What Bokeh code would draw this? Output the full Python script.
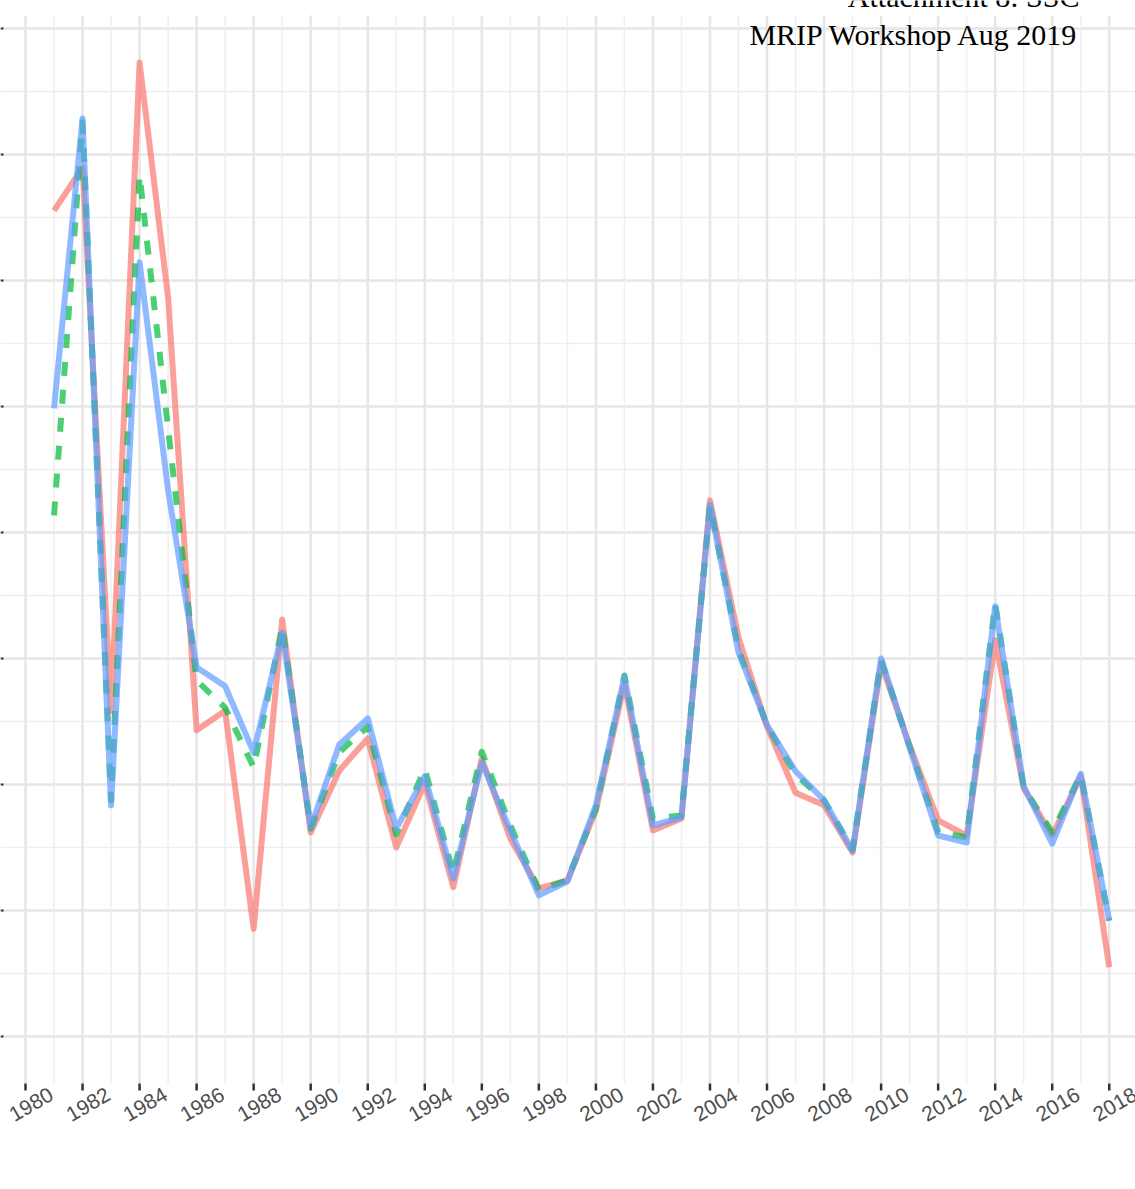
import math
from bokeh.plotting import figure
from bokeh.models import Range1d, FixedTicker, Grid, ColumnDataSource
from bokeh.core.properties import value
from bokeh.embed import file_html
from bokeh.resources import INLINE

# ---- data ----
years = list(range(1981, 2019))
series_red = [1.311, 1.379, 0.517, 1.546, 1.173, 0.486, 0.517, 0.171, 0.662, 0.324,
              0.422, 0.473, 0.300, 0.402, 0.237, 0.441, 0.314, 0.235, 0.248, 0.359,
              0.560, 0.327, 0.346, 0.851, 0.633, 0.492, 0.387, 0.367, 0.292, 0.592,
              0.462, 0.343, 0.319, 0.629, 0.394, 0.319, 0.414, 0.110]
series_green = [0.827, 1.451, 0.375, 1.367, 0.965, 0.565, 0.522, 0.427, 0.651, 0.330,
                0.451, 0.492, 0.321, 0.425, 0.259, 0.452, 0.335, 0.232, 0.248, 0.362,
                0.573, 0.346, 0.351, 0.843, 0.613, 0.494, 0.416, 0.375, 0.297, 0.598,
                0.460, 0.324, 0.316, 0.687, 0.395, 0.324, 0.416, 0.184]
series_blue = [0.997, 1.457, 0.367, 1.229, 0.867, 0.586, 0.556, 0.451, 0.641, 0.332,
               0.463, 0.505, 0.330, 0.413, 0.251, 0.435, 0.327, 0.224, 0.246, 0.367,
               0.571, 0.335, 0.348, 0.844, 0.610, 0.494, 0.421, 0.375, 0.295, 0.600,
               0.459, 0.319, 0.308, 0.683, 0.397, 0.306, 0.417, 0.184]
tick_years = list(range(1980, 2019, 2))
tick_labels = [str(y) for y in tick_years]
minor_years = list(range(1981, 2019, 2))
y_major = [0.0, 0.2, 0.4, 0.6, 0.8, 1.0, 1.2, 1.4, 1.6]
y_minor = [0.1, 0.3, 0.5, 0.7, 0.9, 1.1, 1.3, 1.5]
header_lines = ["Attachment 8: SSC", "MRIP Workshop Aug 2019"]

# ---- layout constants (pixel geometry of the panel) ----
PX_PER_YEAR = 28.52
PX_PER_UNIT = 630.0
Y0_PX = 1036.0          # pixel row of value 0
X0_PX = 25.0            # pixel column of 1980
def vy(px):             # pixel row -> value
    return (Y0_PX - px) / PX_PER_UNIT
def vx(px):             # pixel column -> year
    return 1980 + (px - X0_PX) / PX_PER_YEAR

panel_top, panel_bottom = vy(15), vy(1083)
tick_end = vy(1090)

p = figure(width=1135, height=1189, output_backend="svg", toolbar_location=None,
           x_range=Range1d(vx(0), vx(1135)), y_range=Range1d(vy(1189), vy(0)),
           x_axis_location=None, y_axis_location=None,
           min_border_left=0, min_border_right=0, min_border_top=0, min_border_bottom=0)
p.outline_line_color = None
p.background_fill_color = "white"
p.border_fill_color = "white"

# drop any default grids
for g in list(p.xgrid) + list(p.ygrid):
    g.visible = False
p.renderers = [r for r in p.renderers if not isinstance(r, Grid)]
p.center = [c for c in p.center if not isinstance(c, Grid)]

# horizontal grid (major + minor)
yg = Grid(dimension=1, ticker=FixedTicker(ticks=y_major, minor_ticks=y_minor),
          grid_line_color="#E6E6E6", grid_line_width=2.5,
          minor_grid_line_color="#EFEFEF", minor_grid_line_width=1.5)
p.add_layout(yg)

# vertical grid lines limited to the panel
p.segment(x0=minor_years, x1=minor_years, y0=[panel_bottom] * len(minor_years),
          y1=[panel_top] * len(minor_years), line_color="#EFEFEF", line_width=1.5)
p.segment(x0=tick_years, x1=tick_years, y0=[panel_bottom] * len(tick_years),
          y1=[panel_top] * len(tick_years), line_color="#E6E6E6", line_width=2.5)

# x tick marks
p.segment(x0=tick_years, x1=tick_years, y0=[panel_bottom] * len(tick_years),
          y1=[tick_end] * len(tick_years), line_color="#333333", line_width=2.5)
# small y tick stubs at the left edge
p.segment(x0=[vx(0)] * len(y_major), x1=[vx(3)] * len(y_major), y0=y_major, y1=y_major,
          line_color="#333333", line_width=2)

# series
p.line(years, series_red, line_color="#F8766D", line_alpha=0.7, line_width=6,
       line_join="round")
p.line(years, series_green, line_color="#00BA38", line_alpha=0.7, line_width=6,
       line_dash="14 14", line_join="round")
p.line(years, series_blue, line_color="#619CFF", line_alpha=0.7, line_width=6,
       line_join="round")

# rotated year labels
lab_src = ColumnDataSource(dict(x=[t + 0.2 for t in tick_years],
                                y=[vy(1104)] * len(tick_years), text=tick_labels))
p.text(x="x", y="y", text="text", source=lab_src, angle=math.pi / 6,
       text_align="center", text_baseline="middle",
       text_font=value("Liberation Sans"), text_font_size=value("21px"),
       text_color="#4D4D4D")

# header text
hdr_src = ColumnDataSource(dict(x=[vx(1079)] * 2, y=[vy(-4), vy(34)], text=header_lines))
p.text(x="x", y="y", text="text", source=hdr_src, text_align="right",
       text_baseline="alphabetic", text_font=value("Liberation Serif"),
       text_font_size=value("30px"), text_color="black")

open("out.html", "w").write(file_html(p, INLINE))
